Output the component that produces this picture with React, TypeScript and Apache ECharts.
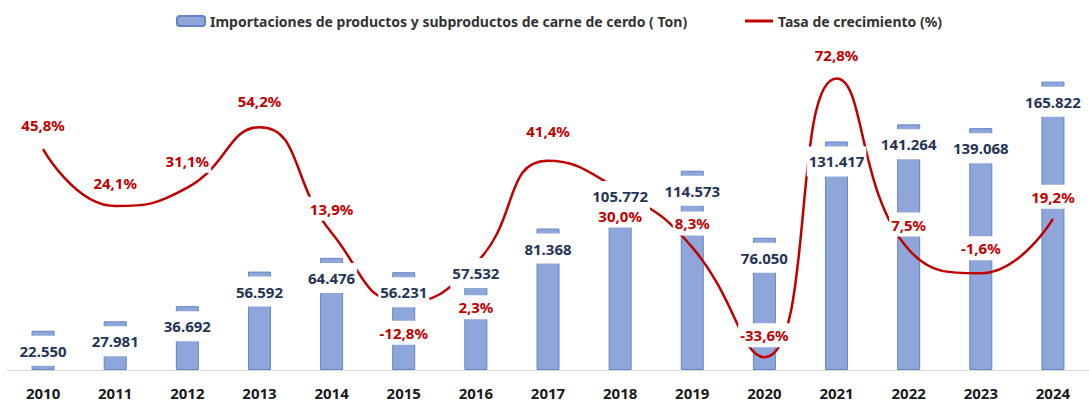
import React, { useEffect, useRef } from "react";
import * as echarts from "echarts";

const years = ["2010","2011","2012","2013","2014","2015","2016","2017","2018","2019","2020","2021","2022","2023","2024"];
const imports = [22550, 27981, 36692, 56592, 64476, 56231, 57532, 81368, 105772, 114573, 76050, 131417, 141264, 139068, 165822];
const growth = [45.8, 24.1, 31.1, 54.2, 13.9, -12.8, 2.3, 41.4, 30.0, 8.3, -33.6, 72.8, 7.5, -1.6, 19.2];

const barName = "Importaciones de productos y subproductos de carne de cerdo ( Ton)";
const lineName = "Tasa de crecimiento (%)";

// label placement (layout only)
const growthLabelPos = ["top","top","top","top","top","bottom","bottom","top","bottom","top","top","top","top","top","top"];
const growthLabelDist = [12, 11, 15, 14, 12, 18, 32, 18, 13, 12, 10, 11, 13, 13, 10];
const barLabelShift = [0, 0, 0, 0, 0, 0, -17, 0, -10, 0, 0, 0, 0, 0, 0];

const fmtThousands = (v: number) => String(v).replace(/\B(?=(\d{3})+(?!\d))/g, ".");
const fmtPct = (v: number) => v.toFixed(1).replace(".", ",") + "%";

const FONT = "Noto Sans";
const legendText = { fontFamily: FONT, fontSize: 14, fontWeight: "bold", color: "#333333" };

export default function App() {
  const ref = useRef<HTMLDivElement>(null);
  useEffect(() => {
    if (!ref.current) return;
    const chart = echarts.init(ref.current, undefined, { renderer: "svg" });
    chart.setOption({
      animation: false,
      backgroundColor: "#ffffff",
      legend: [
        {
          data: [barName],
          top: 9,
          left: 171,
          itemWidth: 28,
          itemHeight: 10,
          itemGap: 3,
          textStyle: legendText,
          selectedMode: false,
        },
        {
          data: [{ name: lineName, icon: "path://M0,0 L28,0 L28,3 L0,3 Z" }],
          top: 9,
          left: 740,
          itemWidth: 28,
          itemHeight: 10,
          textStyle: legendText,
          selectedMode: false,
        },
      ],
      grid: { left: 7, right: -13, top: 57, bottom: 31 },
      xAxis: {
        type: "category",
        data: years,
        axisLine: { lineStyle: { color: "#D9D9D9", width: 1 } },
        axisTick: { show: false },
        axisLabel: { fontFamily: FONT, fontSize: 15, fontWeight: "bold", color: "#1a1a1a", margin: 15 },
      },
      yAxis: [
        { type: "value", min: 0, max: 180000, show: false, splitLine: { show: false } },
        { type: "value", min: -38.5, max: 81, show: false, splitLine: { show: false } },
      ],
      series: [
        {
          name: barName,
          type: "bar",
          data: imports,
          barWidth: 23,
          barGap: "-100%",
          z: 2,
          itemStyle: { color: "#8EA6DA", borderColor: "#6683C4", borderWidth: 1 },
        },
        {
          name: lineName,
          type: "line",
          yAxisIndex: 1,
          smooth: 0.5,
          symbol: "circle",
          symbolSize: 0.01,
          showSymbol: true,
          z: 3,
          lineStyle: { color: "#C00000", width: 2.5 },
          itemStyle: { color: "#C00000" },
          data: growth.map((v, i) => ({
            value: v,
            label: { position: growthLabelPos[i], distance: growthLabelDist[i] },
          })),
          label: {
            show: true,
            formatter: (p: any) => fmtPct(p.value),
            fontFamily: FONT,
            fontSize: 15,
            fontWeight: "bold",
            color: "#C00000",
            backgroundColor: "#ffffff",
            lineHeight: 18,
            padding: [3, 2],
          },
        },
        {
          name: "etiquetas",
          type: "bar",
          data: imports.map((v, i) => ({
            value: v,
            label: { offset: [0, barLabelShift[i]] },
          })),
          barWidth: 23,
          barGap: "-100%",
          z: 4,
          silent: true,
          itemStyle: { color: "rgba(0,0,0,0)" },
          label: {
            show: true,
            position: "insideTop",
            distance: 5,
            formatter: (p: any) => fmtThousands(p.value),
            fontFamily: FONT,
            fontSize: 15,
            fontWeight: "bold",
            color: "#243457",
            backgroundColor: "#ffffff",
            lineHeight: 18,
            padding: [6, 2],
          },
        },
      ],
    });
    return () => chart.dispose();
  }, []);
  return (
    <div
      ref={ref}
      style={{ position: "absolute", left: 0, top: 0, width: 1089, height: 401 }}
    />
  );
}
